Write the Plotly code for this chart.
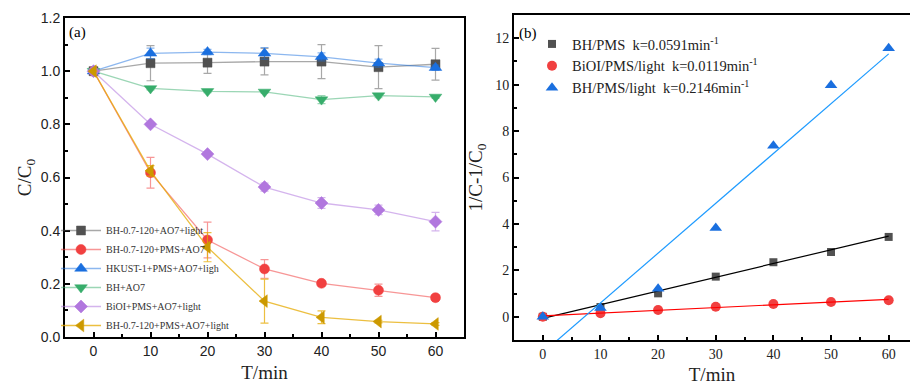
import plotly.graph_objects as go

# ---------- data: panel (a) ----------
t = [0, 10, 20, 30, 40, 50, 60]
names_a = ["BH-0.7-120+AO7+light", "BH-0.7-120+PMS+AO7", "HKUST-1+PMS+AO7+ligh",
           "BH+AO7", "BiOI+PMS+AO7+light", "BH-0.7-120+PMS+AO7+light"]
bh_light = [1.0, 1.03, 1.032, 1.036, 1.036, 1.015, 1.026]
bh_light_err = [0, 0.066, 0.04, 0.05, 0.064, 0.081, 0.06]
bh_pms = [1.0, 0.618, 0.365, 0.256, 0.202, 0.176, 0.148]
bh_pms_err = [0, 0.058, 0.067, 0.035, 0.01, 0.023, 0.01]
hkust = [1.0, 1.067, 1.072, 1.067, 1.054, 1.03, 1.013]
hkust_err = [0, 0.02, 0.01, 0.022, 0.015, 0.015, 0.01]
bh_ao7 = [1.0, 0.935, 0.924, 0.922, 0.893, 0.908, 0.903]
bh_ao7_err = [0, 0.005, 0.005, 0.005, 0.015, 0.008, 0.005]
bioi = [1.0, 0.80, 0.688, 0.564, 0.504, 0.478, 0.434]
bioi_err = [0, 0.005, 0.005, 0.015, 0.02, 0.018, 0.035]
bh_all = [1.0, 0.625, 0.338, 0.135, 0.074, 0.058, 0.049]
bh_all_err = [0, 0.02, 0.055, 0.083, 0.024, 0.005, 0.005]

series_a = [bh_light, bh_pms, hkust, bh_ao7, bioi, bh_all]
errs_a = [bh_light_err, bh_pms_err, hkust_err, bh_ao7_err, bioi_err, bh_all_err]

# ---------- data: panel (b) ----------
names_b = ["BH/PMS  k=0.0591min<sup>-1</sup>",
           "BiOI/PMS/light  k=0.0119min<sup>-1</sup>",
           "BH/PMS/light  k=0.2146min<sup>-1</sup>"]
b_bh = [0, 0.42, 1.01, 1.73, 2.35, 2.79, 3.44]
b_bioi = [0, 0.15, 0.29, 0.43, 0.55, 0.635, 0.71]
b_bhl = [0, 0.38, 1.21, 3.83, 7.37, 9.97, 11.57]
series_b = [b_bh, b_bioi, b_bhl]
k_vals = [0.0591, 0.0119, 0.2146]
intercepts = [-0.07, 0.04, -1.55]

# ---------- styles ----------
mk_cols = ["#515151", "#F14040", "#1A6FDF", "#37AD6B", "#B177DE", "#CC9900"]
ln_cols = ["rgba(81,81,81,0.5)", "rgba(241,64,64,0.55)", "rgba(26,111,223,0.5)",
           "rgba(55,173,107,0.5)", "rgba(177,119,222,0.55)", "rgba(230,170,0,0.75)"]
symbols = ["square", "circle", "triangle-up", "triangle-down", "diamond", "triangle-left"]
sizes = [9, 10, 11, 11, 10, 11]
fit_cols = ["#000000", "#FF0000", "#1E9BFF"]
b_symbols = ["square", "circle", "triangle-up"]
b_sizes = [8, 10, 11]
b_cols = ["#515151", "#F14040", "#1A6FDF"]

SERIF = "Liberation Serif, Times New Roman, serif"
SANS = "Liberation Sans, Arial, sans-serif"

fig = go.Figure()

for i in range(6):
    fig.add_trace(go.Scatter(
        x=t, y=series_a[i], name=names_a[i], mode="lines+markers",
        line=dict(color=ln_cols[i], width=1.3),
        marker=dict(symbol=symbols[i], size=sizes[i], color=mk_cols[i],
                    line=dict(width=0.5, color=mk_cols[i])),
        error_y=dict(type="data", array=errs_a[i], visible=True,
                     color=ln_cols[i], thickness=1.2, width=4),
        xaxis="x", yaxis="y", legend="legend"))

for i in range(3):
    fig.add_trace(go.Scatter(
        x=t, y=series_b[i], name=names_b[i], mode="markers",
        marker=dict(symbol=b_symbols[i], size=b_sizes[i], color=b_cols[i]),
        xaxis="x2", yaxis="y2", legend="legend2"))
    fit_y = [k_vals[i] * tt + intercepts[i] for tt in t]
    fig.add_trace(go.Scatter(
        x=t, y=fit_y, mode="lines", showlegend=False,
        line=dict(color=fit_cols[i], width=1.2),
        xaxis="x2", yaxis="y2"))

W, H = 910, 385
def px(x): return x / W
def py(y): return 1 - y / H

axis_common = dict(showline=True, linecolor="black", linewidth=2, ticks="inside",
                   ticklen=5, tickwidth=1.5, tickcolor="black", showgrid=False,
                   zeroline=False, automargin=False)

fig.update_layout(
    width=W, height=H, margin=dict(l=0, r=0, t=0, b=0, autoexpand=False),
    plot_bgcolor="white", paper_bgcolor="white",
    xaxis=dict(domain=[px(65), px(464)], range=[-5, 65], tickvals=t, mirror=True,
               minor=dict(ticks="inside", ticklen=3, dtick=5, tick0=0, tickcolor="black"),
               tickfont=dict(family=SANS, size=14, color="#222"),
               title=dict(text="T/min", font=dict(family=SERIF, size=19, color="#222"), standoff=8),
               anchor="y", **axis_common),
    yaxis=dict(domain=[py(337), py(18)], range=[0, 1.2], dtick=0.2, tickformat=".1f", mirror=True,
               minor=dict(ticks="inside", ticklen=3, dtick=0.1, tickcolor="black"),
               tickfont=dict(family=SANS, size=14, color="#222"),
               title=dict(text="C/C<sub>0</sub>", font=dict(family=SERIF, size=19, color="#222"), standoff=4),
               anchor="x", **axis_common),
    xaxis2=dict(domain=[px(514), 1.0], range=[-5, 63.7], tickvals=t, mirror=True,
                minor=dict(ticks="inside", ticklen=3, dtick=5, tick0=0, tickcolor="black"),
                tickfont=dict(family=SERIF, size=14, color="#222"),
                title=dict(text="T/min", font=dict(family=SERIF, size=19, color="#222"), standoff=8),
                anchor="y2", **axis_common),
    yaxis2=dict(domain=[py(340), py(15)], range=[-1, 13], dtick=2,
                minor=dict(ticks="inside", ticklen=3, dtick=1, tickcolor="black"),
                tickfont=dict(family=SERIF, size=14, color="#222"),
                title=dict(text="1/C-1/C<sub>0</sub>", font=dict(family=SERIF, size=19, color="#222"), standoff=8),
                anchor="x2", **axis_common),
    legend=dict(x=px(56), y=py(216), xanchor="left", yanchor="top",
                bgcolor="rgba(0,0,0,0)", font=dict(family=SERIF, size=10, color="#333"),
                tracegroupgap=0, itemwidth=40),
    legend2=dict(x=px(532), y=py(28), xanchor="left", yanchor="top",
                 bgcolor="rgba(0,0,0,0)", font=dict(family=SERIF, size=14.5, color="#222"),
                 tracegroupgap=0),
    annotations=[
        dict(text="(a)", x=px(67), y=py(32), xref="paper", yref="paper", showarrow=False,
             xanchor="left", yanchor="middle", font=dict(family=SERIF, size=15, color="black")),
        dict(text="(b)", x=px(517), y=py(33), xref="paper", yref="paper", showarrow=False,
             xanchor="left", yanchor="middle", font=dict(family=SERIF, size=15, color="black")),
    ],
)

fig.write_html("out.html")
